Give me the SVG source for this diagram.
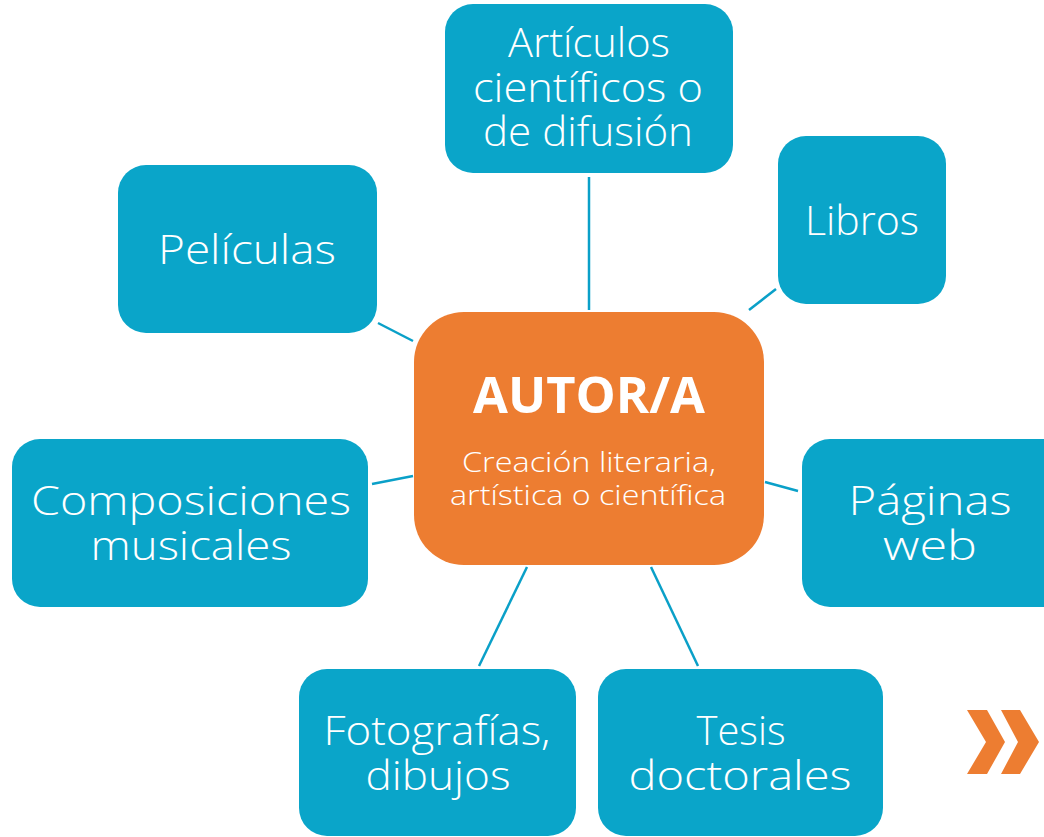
<svg xmlns="http://www.w3.org/2000/svg" width="1044" height="837" viewBox="0 0 1044 837">
<style>
.n{fill:#0AA5C9;}
.c{fill:#ED7D31;}
.t{font-family:"Open Sans","Lato",sans-serif;font-size:40px;font-weight:300;fill:#FFFFFF;text-anchor:middle;font-variant-ligatures:none;}
.tb{font-family:"Open Sans","Lato",sans-serif;font-size:50px;font-weight:bold;fill:#FFFFFF;text-anchor:middle;}
.ts{font-family:"Open Sans","Lato",sans-serif;font-size:27px;font-weight:300;fill:#FFFFFF;text-anchor:middle;font-variant-ligatures:none;}
.l{stroke:#0AA0C8;stroke-width:2.5;fill:none;}
</style>
<rect width="1044" height="837" fill="#FFFFFF"/>
<g id="connectors">
<line class="l" x1="589" y1="177" x2="589" y2="310"/>
<line class="l" x1="749" y1="310" x2="776" y2="289"/>
<line class="l" x1="378" y1="323" x2="413" y2="341"/>
<line class="l" x1="372" y1="484" x2="413" y2="476"/>
<line class="l" x1="765" y1="482" x2="798" y2="491"/>
<line class="l" x1="527" y1="567" x2="479" y2="666"/>
<line class="l" x1="651" y1="567" x2="698" y2="666"/>
</g>
<g id="articulos">
<rect class="n" x="445" y="4" width="288" height="169" rx="28"/>
<text class="t" x="589" y="57" textLength="162" lengthAdjust="spacingAndGlyphs">Artículos</text>
<text class="t" x="588" y="102" textLength="230" lengthAdjust="spacingAndGlyphs">científicos o</text>
<text class="t" x="588" y="146" textLength="210" lengthAdjust="spacingAndGlyphs">de difusión</text>
</g>
<g id="libros">
<rect class="n" x="778" y="136" width="168" height="168" rx="28"/>
<text class="t" x="862" y="235" textLength="114" lengthAdjust="spacingAndGlyphs">Libros</text>
</g>
<g id="peliculas">
<rect class="n" x="118" y="165" width="259" height="168" rx="28"/>
<text class="t" x="247" y="264" textLength="178" lengthAdjust="spacingAndGlyphs">Películas</text>
</g>
<g id="composiciones">
<rect class="n" x="12" y="439" width="356" height="168" rx="28"/>
<text class="t" x="191" y="515" textLength="320" lengthAdjust="spacingAndGlyphs">Composiciones</text>
<text class="t" x="191" y="560" textLength="201" lengthAdjust="spacingAndGlyphs">musicales</text>
</g>
<g id="paginas">
<rect class="n" x="802" y="439" width="270" height="168" rx="28"/>
<text class="t" x="930" y="515" textLength="163" lengthAdjust="spacingAndGlyphs">Páginas</text>
<text class="t" x="930" y="560" textLength="94" lengthAdjust="spacingAndGlyphs">web</text>
</g>
<g id="fotografias">
<rect class="n" x="299" y="669" width="277" height="167" rx="28"/>
<text class="t" x="437" y="745" textLength="227" lengthAdjust="spacingAndGlyphs">Fotografías,</text>
<text class="t" x="438" y="790" textLength="145" lengthAdjust="spacingAndGlyphs">dibujos</text>
</g>
<g id="tesis">
<rect class="n" x="598" y="669" width="285" height="167" rx="28"/>
<text class="t" x="741" y="745" textLength="89" lengthAdjust="spacingAndGlyphs">Tesis</text>
<text class="t" x="740" y="790" textLength="223" lengthAdjust="spacingAndGlyphs">doctorales</text>
</g>
<g id="autor">
<rect class="c" x="414" y="312" width="350" height="253" rx="50"/>
<text class="tb" x="589" y="413" textLength="232" lengthAdjust="spacingAndGlyphs">AUTOR/A</text>
<text class="ts" x="589" y="472" textLength="254" lengthAdjust="spacingAndGlyphs">Creación literaria,</text>
<text class="ts" x="588" y="505" textLength="276" lengthAdjust="spacingAndGlyphs">artística o científica</text>
</g>
<g id="chevron">
<polygon class="c" points="967,710 987,710 1005,742 987,774 967,774 986,742"/>
<polygon class="c" points="1001,710 1020,710 1039,742 1020,774 1001,774 1018,742"/>
</g>
</svg>
